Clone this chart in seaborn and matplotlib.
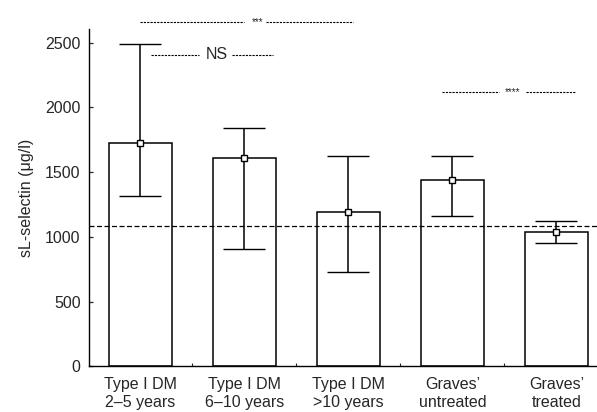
import matplotlib
matplotlib.use("Agg")
import matplotlib.pyplot as plt
import seaborn as sns
import pandas as pd

# values (sL-selectin, ug/l)
groups = ["Type I DM\n2\u20135 years", "Type I DM\n6\u201310 years", "Type I DM\n>10 years",
          "Graves\u2019\nuntreated", "Graves\u2019\ntreated"]
means = [1725, 1607, 1190, 1439, 1035]
upper = [2487, 1841, 1627, 1627, 1122]
lower = [1315, 906, 730, 1163, 954]
reference_level = 1083

data = pd.DataFrame({"group": groups, "mean": means})

sns.set_style("ticks")
plt.rcParams["font.family"] = ["Liberation Sans", "DejaVu Sans"]

fig = plt.figure(figsize=(5.97, 4.12), dpi=100)
ax = fig.add_axes([0.149, 0.111, 0.851, 0.819])

sns.barplot(data=data, x="group", y="mean", color="white", edgecolor="black",
            linewidth=1.1, width=0.6, ax=ax, saturation=1)

xs = list(range(len(groups)))
err_lo = [m - l for m, l in zip(means, lower)]
err_hi = [u - m for u, m in zip(upper, means)]
ax.errorbar(xs, means, yerr=[err_lo, err_hi], fmt="s", color="black", ecolor="black",
            elinewidth=1.1, capsize=15, capthick=1.1, markersize=5,
            markerfacecolor="white", markeredgecolor="black", markeredgewidth=1.0, zorder=5)

ax.axhline(reference_level, color="black", lw=0.9, ls=(0, (4, 2)), zorder=4)

ax.set_xlim(-0.495, 4.39)
ax.set_ylim(0, 2606)
ax.set_yticks([0, 500, 1000, 1500, 2000, 2500])
ax.set_xlabel("")
ax.set_ylabel("sL-selectin (\u03bcg/l)", fontsize=11.5, labelpad=8)

ax.tick_params(axis="y", direction="in", length=3, width=0.9, labelsize=11.5, pad=6)
ax.tick_params(axis="x", which="major", length=0, labelsize=11.5, pad=8)
ax.set_xticks([0.5, 1.5, 2.5, 3.5], minor=True)
ax.tick_params(axis="x", which="minor", direction="in", length=2, width=0.8)

sns.despine(ax=ax)
for s in ["left", "bottom"]:
    ax.spines[s].set_linewidth(1.0)
    ax.spines[s].set_color("black")


def sig_bar(x0, x1, xt, x2, x3, y, label, size):
    ax.plot([x0, x1], [y, y], color="black", lw=0.8, ls=(0, (2, 1)), clip_on=False)
    ax.plot([x2, x3], [y, y], color="black", lw=0.8, ls=(0, (2, 1)), clip_on=False)
    ax.text(xt, y, label, ha="center", va="center", fontsize=size, clip_on=False)


sig_bar(0.0, 0.995, 1.13, 1.21, 2.04, 2655, "***", 7)
sig_bar(0.10, 0.56, 0.73, 0.88, 1.27, 2405, "NS", 11.5)
sig_bar(2.90, 3.45, 3.58, 3.71, 4.19, 2117, "****", 7)

fig.savefig("out.png", dpi=100)
